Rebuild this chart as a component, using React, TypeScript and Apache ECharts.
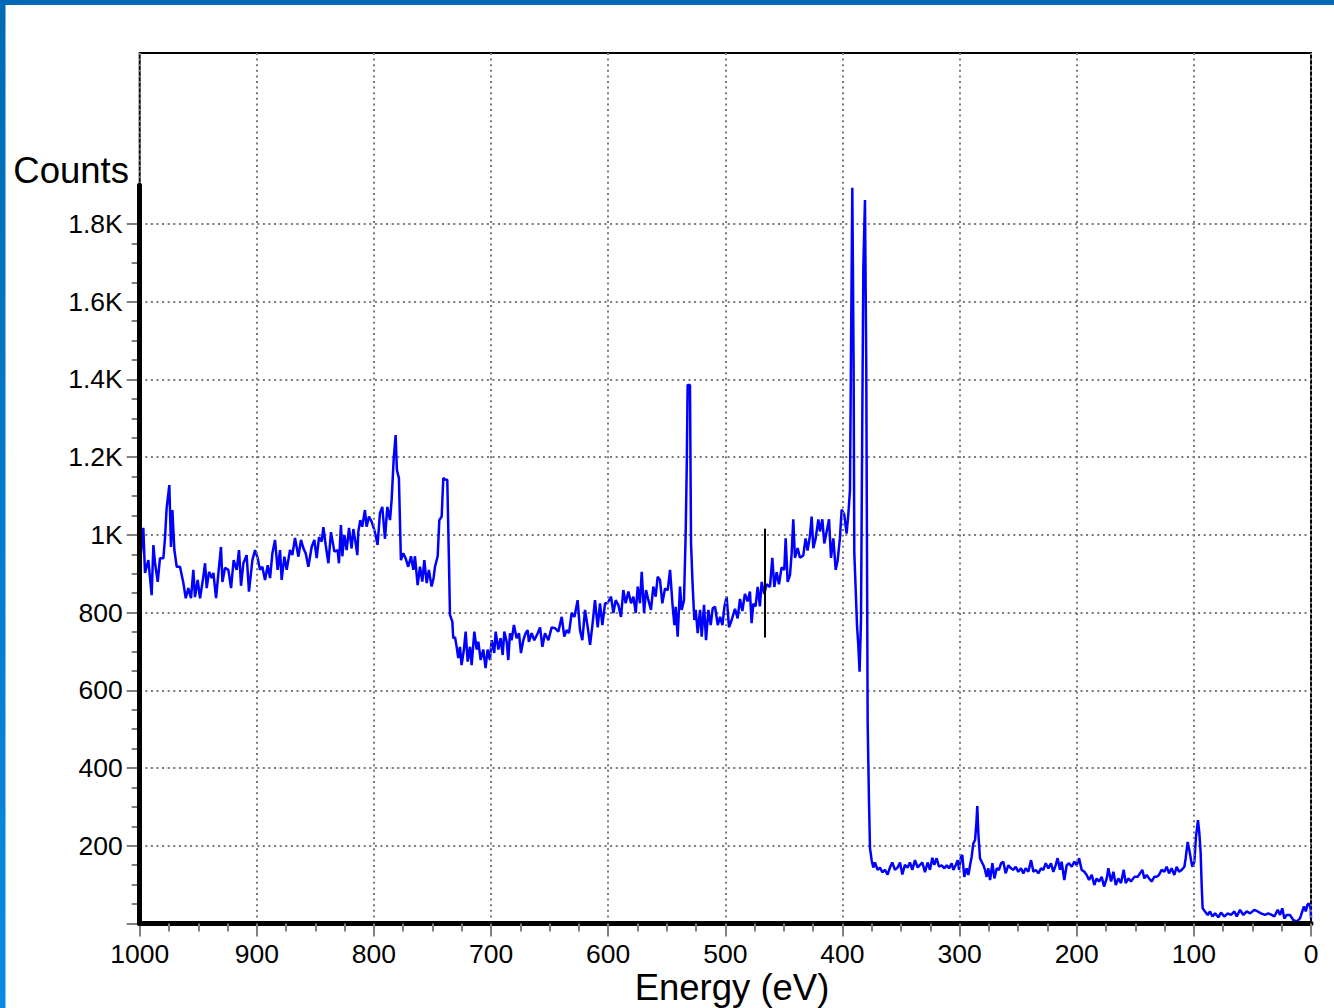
import React, { useEffect, useRef } from "react";
import * as echarts from "echarts";

// Energy (eV), from 1000 down to 0
const ENERGY = [
  1000, 996.9, 995.5, 992.6, 989.8, 988.3, 986.9, 984.6, 982.7, 979.8, 978.4, 977.0, 974.7, 973.3, 972.1, 970.4, 968.4, 965.6, 962.7, 960.7,
  958.5, 956.2, 954.2, 952.8, 950.5, 948.5, 945.7, 944.2, 942.8, 940.8, 938.5, 937.1, 934.8, 932.8, 930.6, 929.4, 927.2, 924.3, 922.0, 919.8,
  917.2, 915.2, 913.5, 911.5, 908.7, 906.7, 903.8, 901.5, 899.3, 897.3, 895.3, 893.0, 890.7, 888.7, 886.7, 884.5, 882.2, 880.2, 878.8, 876.5,
  874.5, 871.7, 869.7, 867.4, 864.5, 862.3, 860.3, 858.3, 856.0, 853.2, 850.9, 848.9, 846.9, 844.6, 843.2, 841.2, 838.9, 836.7, 833.8,
  831.0, 829.9, 828.2, 827.0, 825.3, 823.3, 821.3, 819.1, 817.6, 815.7, 814.2, 813.4, 811.7, 810.0, 807.7, 806.3, 804.3, 802.0, 799.7, 796.9,
  794.9, 792.9, 790.6, 788.6, 786.3, 784.9, 783.2, 781.5, 780.4, 778.7, 777.0, 775.0, 773.0, 770.7, 768.4, 766.4, 765.0, 762.7, 760.7, 758.7,
  757.0, 755.0, 753.1, 750.8, 749.1, 747.9, 745.6, 744.2, 742.2, 740.8, 738.8, 737.4, 736.0, 735.1, 733.1, 732.3, 730.8, 729.4, 728.0, 726.6,
  725.2, 723.2, 721.7, 720.0, 718.0, 716.6, 714.3, 712.3, 710.9, 708.9, 706.7, 704.7, 703.0, 701.0, 699.5, 697.3, 696.1, 693.8, 691.9, 690.1,
  688.7, 686.7, 685.3, 683.9, 682.5, 680.5, 678.2, 676.2, 674.5, 672.5, 670.5, 668.8, 667.7, 665.4, 663.1,
  660.2, 658.2, 656.2, 654.0, 651.1, 648.3, 645.4, 642.6, 639.7, 637.5, 635.5, 633.5, 631.2, 628.9, 626.1, 624.1, 622.1, 619.8, 617.5, 615.5,
  613.5, 611.3, 609.0, 607.0, 605.0, 602.7, 600.5, 597.6, 595.6, 593.6, 591.4, 589.1, 587.1, 585.1, 582.8, 580.5, 578.5, 576.5, 574.8, 572.9,
  571.4, 569.4, 567.7, 565.7, 563.5, 561.5, 559.5, 557.8, 555.8, 553.8, 551.5, 549.2, 547.2, 545.2, 543.5, 542.4, 540.7, 538.7, 537.3, 535.3,
  533.9, 533.0, 532.2, 530.2, 529.3, 527.9, 526.5, 525.3, 523.6, 521.6, 520.2, 518.2, 516.5, 514.5, 512.5, 510.8, 508.8, 506.5, 504.5, 502.5,
  500.8, 498.9, 496.9, 494.6,
  491.8, 489.5, 487.5, 485.5, 483.3, 481.0, 479.0, 477.6, 476.1, 474.2, 472.4, 470.5, 469.0, 466.8, 464.8, 461.9, 459.9, 458.2, 456.2, 454.2,
  452.0, 449.7, 448.5, 446.8, 444.8, 443.4, 442.0, 440.6, 438.3, 436.3, 433.5, 431.5, 429.8, 427.8, 426.3, 424.9, 422.9, 420.6, 419.2, 417.2,
  415.5, 413.5, 411.5, 409.8, 407.8, 405.8, 404.1, 402.2, 400.7, 398.5, 396.5, 395.0, 393.6, 392.8, 391.6, 390.5, 389.9, 388.8, 387.6, 386.5,
  385.4, 384.2, 383.1, 382.2, 380.8, 379.7, 378.5, 377.4, 376.5, 375.1, 373.7, 372.3, 370.0, 368.0, 366.0, 363.7, 361.5, 359.5, 357.5, 355.2,
  352.9, 350.9, 348.9, 346.7, 344.4, 342.4, 340.4, 338.1, 335.8, 333.8, 331.8, 329.6, 327.3, 325.3, 323.3, 321.6,
  319.6, 317.6, 315.3, 313.0, 311.0, 309.0, 306.8, 305.3, 303.4, 301.6, 300.5, 298.8, 297.7, 296.0, 294.0, 292.5, 291.1, 289.7, 288.3, 286.8,
  285.7, 284.9, 284.0, 282.6, 281.2, 279.7, 278.3, 276.9, 275.5, 274.0, 272.0, 270.3, 268.3, 266.4, 264.6, 262.7, 260.7, 258.4, 256.1, 254.1,
  252.1, 249.9, 247.6, 245.6, 243.6, 241.3, 239.0, 237.0, 235.0, 232.8, 230.5, 228.5, 226.5, 224.2, 222.0, 220.0, 218.0, 216.3, 214.3, 212.9,
  210.6, 208.6, 206.6, 204.3, 202.0, 200.0, 198.0, 195.8, 193.5, 191.5, 189.5, 187.2, 185.0, 183.0, 181.0, 178.7, 176.7, 174.4, 173.0, 170.7,
  168.7, 166.7, 164.5, 162.2, 159.9, 158.2, 155.9, 153.7, 150.8,
  148.0, 146.0, 144.0, 142.3, 140.3, 138.3, 136.0, 133.8, 131.8, 129.8, 127.5, 125.2, 123.2, 121.2, 119.0, 116.7, 114.7, 112.7, 110.4, 108.1,
  107.0, 105.3, 103.9, 102.4, 101.3, 99.6, 98.2, 96.5, 95.3, 94.2, 93.3, 92.5, 90.5, 88.2, 86.2, 84.2, 81.9, 79.1, 76.8, 74.0,
  71.1, 68.3, 65.4, 63.4, 60.6, 57.7, 54.9, 52.0, 48.4, 45.5, 42.7, 39.2, 36.4, 33.6, 31.3, 28.4, 26.4, 24.5, 22.8, 20.8,
  18.0, 15.1, 12.3, 9.4, 8.0, 6.0, 4.5, 3.1, 1.8, 0.3, 0,
];

// Counts at each energy
const COUNTS = [
  918, 1018, 902, 935, 845, 974, 927, 879, 940, 940, 992, 1069, 1128, 969, 1064, 961, 918, 918, 876, 837,
  863, 837, 910, 840, 884, 837, 892, 927, 863, 905, 889, 902, 837, 902, 969, 879, 915, 910, 863, 935,
  910, 961, 869, 927, 948, 854, 935, 961, 940, 910, 918, 884, 922, 889, 953, 987, 910, 961, 884, 944,
  910, 961, 948, 992, 944, 987, 966, 953, 918, 969, 987, 940, 994, 983, 1020, 974, 927, 1007, 957,
  961, 927, 1025, 945, 1000, 961, 1018, 965, 1015, 980, 948, 1007, 1038, 1021, 1064, 1021, 1047, 1034, 1013, 974,
  1056, 1072, 990, 1072, 1038, 1090, 1193, 1257, 1167, 1146, 935, 953, 940, 918, 945, 910, 945, 871, 918, 880,
  935, 876, 910, 867, 889, 918, 945, 1038, 1047, 1146, 1142, 1142, 935, 794, 777, 734, 737, 712, 683, 712,
  665, 705, 751, 674, 712, 665, 751, 705, 725, 678, 705, 657, 705, 678, 729, 696, 751, 705, 734, 691,
  751, 725, 678, 747, 729, 768, 734, 747, 696, 729, 747, 755, 725, 747, 729,
  747, 762, 712, 747, 729, 762, 760, 751, 789, 738, 755, 747, 799, 789, 832, 755, 729, 807, 762, 717,
  768, 832, 762, 824, 768, 824, 824, 841, 799, 832, 820, 789, 858, 824, 854, 824, 841, 799, 867, 824,
  905, 799, 858, 832, 807, 867, 841, 892, 884, 824, 862, 858, 910, 824, 768, 815, 738, 867, 807, 832,
  1000, 1167, 1386, 1386, 978, 868, 781, 807, 747, 807, 738, 820, 729, 807, 768, 811, 815, 768, 789, 768,
  815, 841, 762, 781,
  810, 785, 835, 804, 848, 829, 854, 773, 823, 816, 866, 816, 879, 848, 873, 866, 941, 866, 904, 873,
  916, 910, 991, 879, 897, 953, 1040, 941, 966, 941, 947, 991, 960, 997, 1047, 966, 991, 1040, 1009, 1040,
  978, 1009, 1040, 941, 991, 910, 935, 991, 1065, 1053, 1003, 1053, 1115, 1439, 1893, 1439, 953, 866, 767, 717,
  648, 779, 1290, 1688, 1862, 1439, 518, 319, 194, 163, 144, 157, 138, 144, 132, 138, 126, 144, 157, 138,
  144, 157, 126, 151, 144, 157, 138, 163, 144, 151, 157, 132, 157, 138, 169, 151,
  168, 146, 150, 142, 150, 142, 155, 138, 150, 163, 138, 172, 176, 120, 142, 125, 150, 172, 206, 215,
  258, 302, 232, 168, 159, 150, 138, 120, 142, 112, 155, 116, 142, 138, 155, 159, 129, 150, 142, 138,
  146, 133, 142, 129, 142, 133, 163, 133, 138, 129, 142, 138, 155, 142, 155, 133, 150, 168, 138, 159,
  112, 150, 155, 146, 159, 150, 168, 138, 133, 125, 112, 125, 99, 116, 108, 120, 95, 116, 142, 108,
  133, 99, 116, 104, 138, 104, 116, 108, 120,
  120, 129, 138, 116, 125, 116, 108, 120, 120, 125, 138, 133, 146, 129, 142, 125, 146, 133, 138, 146,
  168, 210, 189, 163, 146, 159, 223, 266, 232, 181, 95, 39, 31, 22, 31, 18, 26, 16, 28, 18,
  26, 22, 31, 18, 35, 22, 31, 26, 35, 31, 26, 22, 26, 22, 18, 35, 22, 39, 13, 22,
  22, 9, 5, 13, 26, 44, 31, 48, 52, 39, 13,
];

// Vertical marker (energy, count range)
const MARKER_ENERGY = 466;
const MARKER_LOW = 736;
const MARKER_HIGH = 1016;

// Axis ranges
const X_MIN = 0;
const X_MAX = 1000;
const X_STEP = 100;
const Y_STEP = 200;
const Y_LABEL_MAX = 1800; // last labelled tick
const Y_AXIS_TOP = 1900; // where the heavy y-axis line ends
const Y_BOX_TOP = 2240; // top of the plot frame

const FONT = "'Liberation Sans', Arial, Helvetica, sans-serif";

export default function App() {
  const ref = useRef<HTMLDivElement>(null);

  useEffect(() => {
    if (!ref.current) return;
    const chart = echarts.init(ref.current, undefined, { renderer: "svg" });

    const W = 1334;
    const H = 1008;
    const left = 139.7;
    const right = W - 1311;
    const y0 = 923.5;
    const bottom = H - y0;
    const pxPerUnit = (y0 - 224) / Y_LABEL_MAX;
    const topFor = (v: number) => y0 - v * pxPerUnit;

    const gridLine = { color: "#7a7a7a", width: 2, type: [2, 3.6] as any };
    const tickStyle = { color: "#808080", width: 2 };

    const hiddenX = (gi: number) => ({
      type: "value",
      gridIndex: gi,
      min: X_MIN,
      max: X_MAX,
      inverse: true,
      show: false,
    });

    const data = ENERGY.map((e, i) => [e, COUNTS[i]]);

    chart.setOption({
      animation: false,
      backgroundColor: "#ffffff",
      grid: [
        { left, right, top: topFor(Y_BOX_TOP), bottom, show: true, borderColor: "#000", borderWidth: 2, backgroundColor: "transparent", containLabel: false },
        { left, right, top: topFor(Y_LABEL_MAX), bottom, containLabel: false },
        { left, right, top: topFor(Y_AXIS_TOP), bottom, containLabel: false },
      ],
      xAxis: [
        {
          type: "value",
          gridIndex: 0,
          min: X_MIN,
          max: X_MAX,
          interval: X_STEP,
          inverse: true,
          position: "bottom",
          axisLine: { show: true, onZero: false, lineStyle: { color: "#000", width: 5 } },
          axisTick: { show: true, length: 13, lineStyle: tickStyle },
          minorTick: { show: true, splitNumber: 4, length: 8, lineStyle: tickStyle },
          splitLine: { show: true, lineStyle: gridLine },
          axisLabel: { color: "#000", fontSize: 26.5, fontFamily: FONT, margin: 17, formatter: (v: number) => String(v) },
          z: 5,
        },
        hiddenX(1),
        hiddenX(2),
      ],
      yAxis: [
        { type: "value", gridIndex: 0, min: 0, max: Y_BOX_TOP, show: false, position: "left", axisLine: { onZero: false } },
        {
          type: "value",
          gridIndex: 1,
          min: 0,
          max: Y_LABEL_MAX,
          interval: Y_STEP,
          position: "left",
          axisLine: { show: false, onZero: false },
          axisTick: { show: true, length: 13, lineStyle: tickStyle },
          minorTick: { show: true, splitNumber: 4, length: 8, lineStyle: tickStyle },
          splitLine: { show: true, lineStyle: gridLine },
          axisLabel: {
            color: "#000",
            fontSize: 26.5,
            fontFamily: FONT,
            margin: 17,
            formatter: (v: number) => (v === 0 ? "" : v >= 1000 ? `${v / 1000}K` : `${v}`),
          },
        },
        {
          type: "value",
          gridIndex: 2,
          min: 0,
          max: Y_AXIS_TOP,
          position: "left",
          axisLine: { show: true, onZero: false, lineStyle: { color: "#000", width: 5 } },
          axisTick: { show: false },
          axisLabel: { show: false },
          splitLine: { show: false },
          z: 6,
        },
      ],
      series: [
        {
          type: "line",
          xAxisIndex: 0,
          yAxisIndex: 0,
          data,
          showSymbol: false,
          symbol: "none",
          lineStyle: { color: "#0000ff", width: 2.5 },
          itemStyle: { color: "#0000ff" },
          z: 3,
          markLine: {
            silent: true,
            symbol: "none",
            label: { show: false },
            lineStyle: { color: "#000", width: 2, type: "solid" },
            data: [[{ coord: [MARKER_ENERGY, MARKER_LOW] }, { coord: [MARKER_ENERGY, MARKER_HIGH] }]],
          },
        },
      ],
      graphic: [
        { type: "rect", shape: { x: 0, y: 0, width: W, height: 5 }, style: { fill: "#006ab4" }, z: 100 },
        {
          type: "rect",
          shape: { x: 0, y: 0, width: 5.5, height: H },
          style: {
            fill: new echarts.graphic.LinearGradient(0, 0, 0, 1, [
              { offset: 0, color: "#006ab4" },
              { offset: 1, color: "#0a8ae0" },
            ]),
          },
          z: 100,
        },
        {
          type: "text",
          x: 129,
          y: 170,
          style: { text: "Counts", font: `36.5px ${FONT}`, fill: "#000", align: "right", verticalAlign: "middle" },
          z: 100,
        },
        {
          type: "text",
          x: 732,
          y: 987,
          style: { text: "Energy (eV)", font: `36.5px ${FONT}`, fill: "#000", align: "center", verticalAlign: "middle" },
          z: 100,
        },
      ],
    });

    return () => chart.dispose();
  }, []);

  return <div ref={ref} style={{ position: "fixed", left: 0, top: 0, width: 1334, height: 1008, background: "#fff" }} />;
}
